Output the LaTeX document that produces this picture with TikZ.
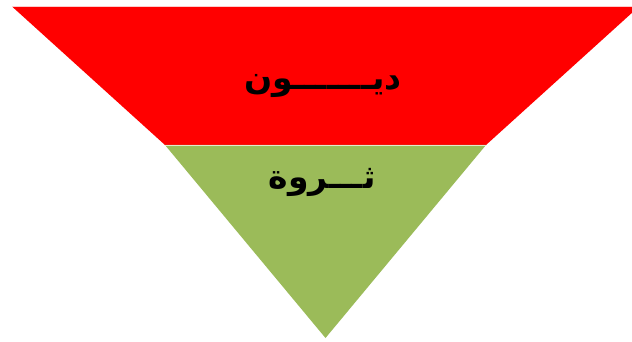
\documentclass[tikz,border=0pt]{standalone}
\usepackage{fontspec}
\newfontfamily\arabicfont[Script=Arabic]{DejaVu Sans}
\TeXXeTstate=1
\definecolor{pyrred}{RGB}{255,0,0}
\definecolor{pyrgreen}{RGB}{155,187,89}
\tikzset{
  label/.style={font=\arabicfont\bfseries\fontsize{33}{38}\selectfont, text=black, inner sep=0pt}
}
\begin{document}
\begin{tikzpicture}[x=1pt,y=-1pt]
\useasboundingbox (0,0) rectangle (632,342);
\fill[white] (0,0) rectangle (632,342);
\begin{scope}
\clip (0,0) rectangle (632,342);
\fill[pyrred] (12,6.5) -- (639,6.5) -- (486,145) -- (165,145) -- cycle;
\fill[pyrgreen] (165,145) -- (486,145) -- (325.5,338) -- cycle;
\draw[white!80!pyrred, line width=0.6pt] (12,6.5) -- (639,6.5);
\draw[white!70!pyrgreen, line width=0.6pt] (165,145) -- (486,145);
\end{scope}
\node[label] (debt) at (323,86) {\beginR ديـــــــون\endR};
\node[label] (wealth) at (322,182) {\beginR ثـــروة\endR};
\end{tikzpicture}
\end{document}
